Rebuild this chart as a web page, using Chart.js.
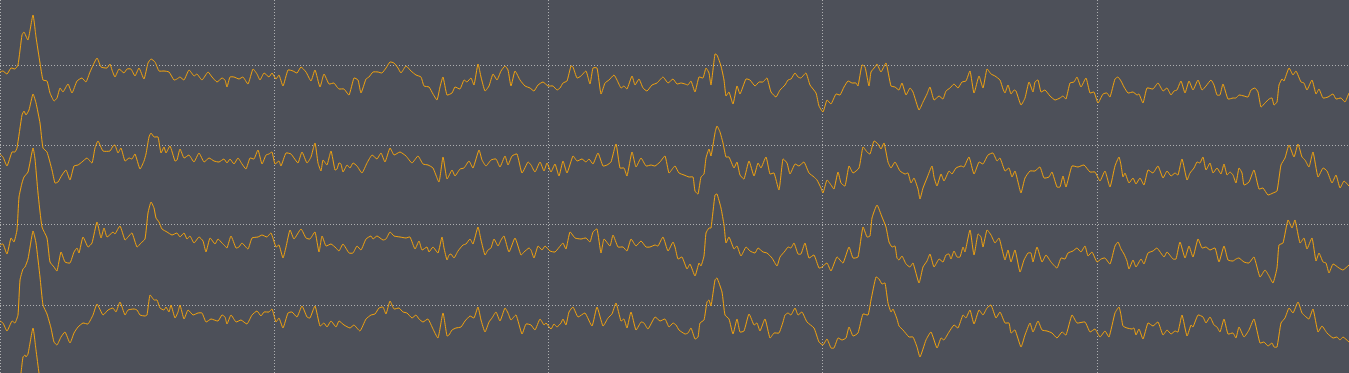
<!DOCTYPE html>
<html>
<head>
<meta charset="utf-8">
<script src="https://cdn.jsdelivr.net/npm/chart.js@4.4.1/dist/chart.umd.min.js"></script>
<style>
  html, body { margin: 0; padding: 0; background: #4d5059; overflow: hidden; }
  #wrap { position: relative; width: 1349px; height: 373px; }
</style>
</head>
<body>
<div id="wrap"><canvas id="eeg"></canvas></div>
<script>
// ---- recording settings ----
const RATE = 274.3;          // samples per second
const WINDOW_SAMPLES = 1349; // samples shown in the page
const CHANNEL_GAP = 80;      // µV between channel baselines
const Y_TOP = 385;           // µV at top edge
const Y_BOTTOM = 12;         // µV at bottom edge
const TRACE_COLOR = '#f2a30f';

const channelNames = ['CH1', 'CH2', 'CH3', 'CH4', 'CH5'];
const secondMarks = [0, 1, 2, 3, 4];

// ---- channel 1 (sample index / µV) ----
const ch1Samples = [0,3,7,11,15,18,22,24,28,33,36,40,43,47,50,54,57,60,63,68,72,77,82,86,90,97,101,107,110,112,
  115,119,124,127,131,135,139,144,148,151,155,159,164,169,174,177,180,184,189,194,197,202,208,212,217,222,
  225,227,230,234,239,243,248,253,257,260,264,269,272,276,279,283,288,293,297,301,306,311,315,320,324,329,334,337,
  339,344,349,354,358,361,366,369,373,378,382,386,390,394,398,401,406,411,416,421,424,429,433,437,440,443,447,
  452,455,460,464,467,471,474,478,481,485,489,493,497,501,505,508,511,515,520,525,530,534,538,543,548,553,557,560,
  563,567,571,573,577,581,586,590,593,597,601,605,609,614,617,621,624,627,632,635,639,643,647,652,657,663,668,673,
  677,681,685,688,691,695,699,703,706,709,711,715,717,721,724,726,729,733,737,740,746,750,755,759,763,767,771,776,780,785,
  788,791,795,798,801,806,810,816,819,823,827,831,836,840,844,848,852,856,858,862,865,869,871,875,877,881,886,891,895,
  899,902,906,910,913,919,923,927,930,934,939,943,946,950,954,958,962,966,970,974,979,983,987,991,995,1000,1003,1005,1008,
  1011,1014,1016,1021,1025,1029,1033,1035,1038,1041,1045,1050,1055,1060,1063,1066,1070,1074,1077,1081,1086,1090,1094,1098,1103,1107,1110,1115,1118,1121,
  1124,1128,1133,1137,1139,1143,1147,1153,1158,1163,1167,1171,1174,1177,1181,1185,1189,1193,1198,1202,1206,1211,1214,1217,1220,1223,1228,1233,
  1236,1239,1244,1248,1251,1255,1258,1261,1265,1269,1272,1274,1277,1279,1282,1284,1289,1293,1296,1301,1304,1307,1312,1316,1319,1323,1328,1333,1336,1341,1345,1349];
const ch1Values = [-7,-6,-9,-3,-4,0,30,33,25,50,28,2,-15,-16,-28,-36,-33,-23,-27,-19,-28,-16,-13,-17,-7,7,-2,-3,1,-5,
  -12,-4,-8,-4,-4,-11,-3,-14,2,6,3,-6,-6,-7,-15,-14,-12,-15,-5,-11,-9,-15,-7,-12,-17,-13,
  -15,-22,-12,-12,-14,-12,-19,-4,-9,-15,-8,-12,-8,-14,-10,-21,-5,-6,-8,-2,-7,-16,-5,-22,-9,-19,-18,-22,
  -24,-24,-30,-13,-15,-28,-14,-12,-7,-7,-8,-3,3,2,-3,-8,-1,-6,-10,-12,-21,-22,-29,-35,-22,-12,-30,
  -28,-22,-24,-15,-17,-13,-20,1,-12,-26,-21,-9,-15,-6,-1,-5,-21,-6,-15,-21,-23,-26,-20,-17,-21,-21,-25,-23,
  -18,-16,-1,-2,-13,-11,-6,-19,-3,-3,-29,-18,-15,-10,-15,-23,-21,-24,-11,-20,-14,-23,-26,-20,-18,-12,-18,-14,
  -19,-18,-19,-20,-16,-27,-12,-13,-3,-8,-20,11,10,-1,-15,-31,-27,-39,-21,-29,-14,-15,-21,-17,-17,-13,-27,-32,-25,-20,
  -15,-14,-8,-12,-13,-8,-20,-28,-41,-47,-35,-39,-29,-30,-22,-16,-18,-18,-21,0,-2,-21,-7,-2,1,-7,2,-21,-22,
  -25,-18,-30,-23,-27,-45,-37,-29,-22,-35,-31,-34,-26,-23,-19,-23,-17,-16,-6,-28,-11,-23,-4,-9,-11,-15,-24,-28,-20,
  -29,-25,-26,-40,-33,-17,-27,-17,-15,-27,-25,-31,-35,-33,-31,-34,-18,-17,-12,-22,-13,-28,-27,-38,-29,-28,-32,-14,-12,-16,
  -22,-28,-27,-30,-29,-38,-23,-24,-18,-26,-23,-30,-26,-25,-16,-28,-16,-25,-15,-25,-21,-15,-20,-30,-30,-19,-34,-33,
  -33,-30,-31,-32,-25,-23,-27,-42,-38,-34,-33,-40,-37,-20,-14,-16,-3,-10,-6,-17,-18,-25,-15,-29,-24,-33,-32,-29,-34,-33,-37,-28];

// ---- channel 2 ----
const ch2Samples = [0,3,7,12,15,17,22,24,26,29,33,36,40,43,47,52,55,58,62,66,70,74,78,82,87,92,95,98,103,110,113,
  115,118,121,125,129,132,135,140,144,146,149,151,154,158,161,164,166,170,175,177,180,184,189,194,199,204,209,214,219,
  224,227,230,234,238,242,246,250,254,258,262,266,269,272,275,279,281,286,291,294,298,302,307,311,315,318,321,323,327,331,335,337,
  339,341,343,347,350,353,357,362,367,372,377,381,385,390,394,400,406,412,418,423,428,433,439,443,447,
  452,455,460,464,469,473,479,482,486,491,496,500,505,508,512,517,522,528,531,535,540,544,547,551,555,559,
  563,567,573,577,582,586,589,593,598,603,607,611,616,620,624,627,632,636,641,646,651,655,660,665,669,673,
  675,679,684,689,693,695,698,701,704,706,709,711,715,717,720,723,726,729,734,737,740,744,749,754,758,761,766,770,774,779,783,
  787,790,795,799,804,809,814,817,821,823,827,831,834,838,841,845,849,853,859,863,867,870,874,878,881,884,888,891,895,
  900,905,908,911,914,918,920,923,927,932,934,937,941,944,949,952,956,961,964,969,974,979,983,988,993,997,1000,1005,1009,
  1012,1015,1018,1021,1025,1030,1035,1040,1044,1049,1052,1057,1060,1063,1066,1072,1078,1084,1090,1095,1100,1105,1110,1115,1119,1121,
  1123,1125,1129,1133,1136,1140,1144,1148,1153,1158,1163,1167,1171,1175,1178,1182,1187,1190,1194,1197,1200,1203,1206,1210,1213,1217,1221,1224,1227,1230,1233,
  1236,1239,1242,1244,1249,1254,1259,1263,1268,1273,1277,1281,1285,1289,1294,1298,1302,1305,1309,1313,1318,1323,1327,1332,1336,1340,1344,1349];
const ch2Values = [-9,-12,-21,-7,-7,-3,30,34,30,35,51,42,22,-3,-7,-25,-38,-37,-30,-25,-35,-21,-20,-17,-13,-18,-3,4,-6,-6,-1,
  0,-8,-3,-16,-13,-14,-9,-24,-16,-9,8,12,8,8,-8,-2,-8,-1,-16,-15,-4,-13,-10,-17,-8,-17,-13,-16,-17,
  -14,-18,-14,-19,-13,-19,-24,-13,-14,-5,-19,-10,-9,-7,-19,-16,-21,-8,-9,-13,-18,-7,-18,-12,2,-18,-26,-15,-20,-6,-25,-24,
  -18,-19,-27,-20,-23,-18,-21,-28,-18,-10,-14,-8,-17,-3,-10,-7,-11,-18,-11,-19,-20,-23,-37,-12,-34,
  -25,-31,-24,-23,-16,-23,-5,-15,-21,-15,-14,-22,-11,-20,-11,-9,-28,-17,-20,-27,-17,-26,-18,-27,-19,-31,
  -16,-28,-11,-16,-14,-17,-14,-19,-8,-21,-20,-17,1,-23,-23,-31,-7,-22,-13,-21,-20,-21,-17,-11,-28,-23,
  -21,-28,-30,-32,-32,-46,-49,-32,-29,-13,-4,-11,12,19,13,2,-12,-12,-23,-17,-30,-34,-16,-31,-18,-23,-12,-29,-28,-45,-14,
  -18,-29,-19,-21,-17,-28,-32,-35,-43,-48,-35,-40,-44,-27,-38,-41,-21,-28,-23,-2,-7,-9,4,1,-4,2,-17,-23,-17,
  -26,-29,-28,-38,-33,-44,-54,-43,-33,-21,-32,-41,-29,-36,-26,-29,-23,-21,-22,-12,-29,-17,-19,-10,-8,-16,-13,-26,-23,
  -32,-26,-37,-48,-33,-26,-26,-22,-33,-32,-27,-42,-42,-31,-42,-21,-22,-20,-27,-27,-36,-26,-42,-21,-12,-20,
  -32,-28,-38,-33,-39,-33,-40,-25,-28,-21,-33,-26,-31,-28,-30,-14,-35,-28,-23,-17,-18,-12,-25,-18,-28,-23,-29,-19,-30,-27,-30,
  -38,-23,-28,-40,-37,-25,-44,-43,-50,-48,-46,-20,-13,0,-12,1,-12,-15,-22,-7,-32,-23,-26,-38,-30,-43,-36,-41];

// ---- channel 3 ----
const ch3Samples = [0,3,7,11,14,17,19,22,24,28,33,35,38,42,47,50,54,57,61,65,70,74,77,79,83,88,92,97,101,104,107,113,
  115,120,125,128,132,137,141,145,148,151,154,156,159,162,167,172,177,180,184,187,190,194,199,203,206,210,215,218,222,225,
  227,231,236,239,242,248,252,258,262,267,271,276,279,283,286,290,294,301,306,310,315,319,322,326,331,336,
  339,343,349,353,357,361,366,371,373,377,383,386,390,394,400,406,410,415,419,422,427,429,433,438,442,444,447,449,
  451,454,458,463,466,470,473,478,481,485,488,491,494,498,501,504,509,515,521,524,529,531,534,538,542,545,550,555,561,
  563,566,570,575,581,586,590,593,597,601,604,610,613,618,623,627,631,636,641,646,650,655,658,663,668,673,
  675,678,682,687,690,695,699,701,704,706,709,711,715,717,721,724,726,729,734,737,741,746,750,755,758,763,767,772,777,780,785,
  788,791,794,798,801,805,809,814,819,822,827,831,837,843,849,853,858,863,867,870,872,877,882,886,889,892,895,897,
  899,902,906,910,913,919,923,927,930,934,939,943,946,949,951,954,957,960,963,965,970,974,978,981,983,987,991,995,999,1002,1005,1008,
  1011,1015,1020,1024,1028,1031,1033,1037,1042,1046,1051,1057,1061,1065,1068,1073,1077,1081,1085,1088,1092,1097,1101,1105,1110,1115,1118,1121,
  1124,1127,1129,1133,1136,1141,1144,1148,1153,1157,1164,1167,1173,1176,1180,1185,1189,1193,1198,1202,1206,1210,1215,1219,1224,1228,1233,
  1236,1239,1244,1249,1254,1260,1265,1269,1273,1277,1279,1283,1288,1292,1295,1300,1304,1307,1312,1316,1319,1323,1326,1329,1333,1339,1343,1349];
const ch3Values = [-20,-19,-29,-13,-17,-5,28,42,48,53,77,66,32,-2,-13,-37,-42,-46,-27,-37,-38,-27,-23,-28,-12,-22,-18,3,-13,-3,-12,-7,
  -9,-1,-15,-12,-8,-22,-18,-14,12,23,17,7,3,-4,-7,-10,-8,-12,-8,-14,-11,-18,-12,-16,-27,-13,-19,-14,-18,-21,
  -23,-11,-23,-22,-18,-24,-13,-12,-10,-12,-8,-22,-20,-33,-22,-5,-14,-4,-13,-14,-7,-27,-11,-21,-19,-23,
  -26,-19,-28,-28,-21,-25,-14,-11,-14,-11,-15,-14,-7,-11,-12,-13,-12,-24,-16,-25,-22,-27,-22,-28,-12,-23,-35,-30,
  -29,-33,-26,-20,-19,-14,-19,-2,-15,-30,-25,-23,-14,-21,-15,-11,-27,-13,-30,-27,-23,-25,-33,-21,-25,-21,-26,-27,-20,
  -18,-24,-7,-13,-14,-13,-17,-7,-4,-28,-14,-21,-10,-22,-22,-26,-14,-21,-16,-22,-22,-20,-21,-12,-26,-17,
  -22,-34,-32,-44,-39,-51,-38,-41,-31,-8,-3,-3,30,31,17,0,-18,-12,-24,-21,-31,-22,-26,-28,-23,-27,-28,-33,-41,-32,-26,
  -22,-23,-18,-29,-29,-18,-33,-30,-43,-42,-38,-46,-32,-38,-22,-33,-32,-2,-12,-11,7,20,8,-2,-17,-22,-21,-33,
  -35,-31,-39,-42,-38,-58,-42,-36,-29,-42,-34,-37,-30,-29,-34,-26,-32,-32,-22,-27,-5,-30,-9,-12,-22,-5,-10,-18,-13,-24,-35,-25,
  -37,-25,-47,-35,-28,-28,-37,-22,-37,-30,-37,-43,-33,-34,-28,-26,-23,-27,-21,-31,-27,-37,-34,-33,-39,-21,-17,-24,
  -29,-36,-44,-35,-42,-34,-39,-28,-26,-23,-32,-27,-34,-34,-17,-33,-21,-32,-14,-23,-22,-25,-23,-37,-21,-35,-36,
  -34,-33,-37,-38,-32,-52,-45,-51,-58,-43,-20,-18,5,-3,5,-18,-13,-24,-13,-36,-28,-37,-38,-48,-39,-43,-45,-40];

// ---- channel 4 ----
const ch4Samples = [0,3,7,12,15,18,20,23,25,28,33,36,40,43,47,51,54,57,61,65,70,74,78,83,88,93,97,103,108,113,
  116,120,125,128,134,137,140,145,147,150,154,157,160,164,166,169,171,175,178,180,184,188,193,198,202,206,211,218,222,225,
  227,231,236,241,247,252,257,261,264,269,272,276,279,283,288,292,297,302,307,310,315,320,324,327,331,336,
  339,344,350,354,360,366,371,375,379,383,386,390,394,399,403,407,412,416,419,423,428,433,438,443,447,449,
  452,456,461,465,470,474,478,481,485,489,492,496,500,505,508,511,516,522,526,531,535,540,544,546,551,554,557,561,
  563,566,569,573,578,585,592,597,603,608,612,616,621,624,627,631,636,641,644,648,655,660,665,669,673,
  676,679,685,688,691,695,698,700,704,707,709,711,715,717,722,725,729,733,737,740,744,749,754,757,760,765,770,774,779,783,785,
  788,791,795,798,802,807,814,819,823,827,831,834,838,842,846,849,853,858,863,868,871,876,879,882,885,888,891,893,897,
  899,903,909,913,917,920,926,931,937,941,944,949,954,958,963,966,970,974,979,983,987,991,996,1000,1005,1009,
  1011,1015,1021,1025,1030,1033,1038,1042,1047,1052,1057,1062,1066,1072,1077,1085,1090,1095,1100,1105,1109,1115,1119,1121,
  1123,1127,1132,1134,1136,1139,1143,1148,1153,1158,1163,1167,1171,1175,1178,1182,1187,1191,1193,1198,1203,1206,1210,1214,1217,1220,1224,1228,1233,
  1236,1239,1244,1249,1254,1260,1264,1268,1272,1274,1277,1281,1285,1289,1293,1298,1302,1305,1309,1313,1318,1322,1327,1333,1337,1340,1343,1349];
const ch4Values = [-16,-18,-26,-16,-18,-10,25,36,38,46,74,62,28,0,-9,-23,-37,-40,-32,-27,-38,-28,-22,-18,-19,-10,1,-10,-5,-3,
  -7,3,-10,-5,-4,-5,-10,-11,-10,10,5,5,-3,-5,-2,-7,0,-13,-7,0,-14,-5,-10,-8,-8,-17,-14,-16,-10,-12,
  -19,-10,-17,-15,-19,-10,-6,-11,-7,-7,-4,-17,-13,-23,-8,-7,-12,-1,-12,-13,-1,-21,-18,-22,-16,-22,
  -16,-20,-23,-20,-26,-14,-10,-9,-3,-2,-9,4,-4,-3,-7,-8,-13,-10,-14,-17,-14,-24,-33,-8,-31,-30,
  -25,-23,-22,-16,-11,-13,-2,-15,-27,-17,-13,-7,-16,-3,-8,-15,-10,-29,-19,-20,-25,-14,-20,-18,-24,-19,-22,-18,
  -14,-20,-7,-2,-12,-8,-21,-2,-21,-13,-9,2,-16,-14,-23,-7,-25,-17,-18,-24,-12,-16,-14,-22,-18,
  -20,-25,-29,-28,-23,-34,-32,-18,-15,3,5,-1,25,27,13,-10,-14,-29,-14,-27,-26,-9,-20,-18,-26,-14,-33,-28,-28,-17,-10,
  -8,-10,-3,-10,-7,-17,-23,-37,-40,-34,-43,-43,-33,-35,-33,-22,-31,-28,-9,-10,5,28,26,21,22,2,-7,-4,-14,
  -21,-25,-32,-32,-42,-52,-35,-27,-43,-33,-35,-27,-20,-23,-10,-13,-5,-19,-5,-10,-3,0,-13,-7,-18,-18,
  -28,-25,-42,-30,-18,-27,-16,-25,-26,-28,-33,-27,-30,-10,-18,-17,-27,-24,-32,-26,-32,-8,-2,-10,
  -21,-23,-24,-23,-30,-24,-34,-18,-21,-17,-30,-25,-29,-26,-27,-10,-31,-20,-22,-10,-12,-18,-12,-20,-22,-27,-14,-29,-28,
  -33,-22,-32,-25,-14,-38,-37,-41,-38,-42,-42,-18,-13,-3,-8,3,-8,-11,-14,-4,-27,-21,-28,-33,-32,-35,-32,-37];

// ---- channel 5 (only its opening spike is inside the page) ----
const ch5Samples = [12,16,18,21,23,25,26,28,33,36,39,43,47];
const ch5Values = [-14,-16,-8,12,28,30,28,31,57,35,12,-12,-20];

const channelSamples = [ch1Samples, ch2Samples, ch3Samples, ch4Samples, ch5Samples];
const channelValues = [ch1Values, ch2Values, ch3Values, ch4Values, ch5Values];

// each channel sits on its own baseline, top channel highest
const baselines = channelNames.map((_, i) => (channelNames.length - 1 - i) * CHANNEL_GAP);

const datasets = channelNames.map((name, i) => ({
    label: name,
    data: channelSamples[i].map((s, k) => ({ x: s / RATE, y: channelValues[i][k] + baselines[i] })),
    borderColor: TRACE_COLOR,
    borderWidth: 1,
    pointRadius: 0,
    tension: 0.15,
    fill: false
}));

const gridStyle = {
    color: 'rgba(215, 215, 215, 0.7)',
    lineWidth: 1,
    drawTicks: false
};

new Chart(document.getElementById('eeg').getContext('2d'), {
    type: 'line',
    data: { datasets },
    options: {
        responsive: true,
        maintainAspectRatio: false,
        animation: false,
        events: [],
        layout: { padding: 0 },
        plugins: { legend: { display: false }, tooltip: { enabled: false } },
        scales: {
            x: {
                type: 'linear',
                min: 0,
                max: WINDOW_SAMPLES / RATE,
                grid: gridStyle,
                border: { display: false, dash: [1, 2] },
                ticks: { display: false },
                afterBuildTicks: (scale) => { scale.ticks = secondMarks.map(v => ({ value: v })); }
            },
            y: {
                type: 'linear',
                min: Y_BOTTOM,
                max: Y_TOP,
                grid: gridStyle,
                border: { display: false, dash: [1, 2] },
                ticks: { display: false },
                afterBuildTicks: (scale) => {
                    scale.ticks = baselines.filter(b => b > Y_BOTTOM).map(v => ({ value: v }));
                }
            }
        }
    }
});
</script>
</body>
</html>
